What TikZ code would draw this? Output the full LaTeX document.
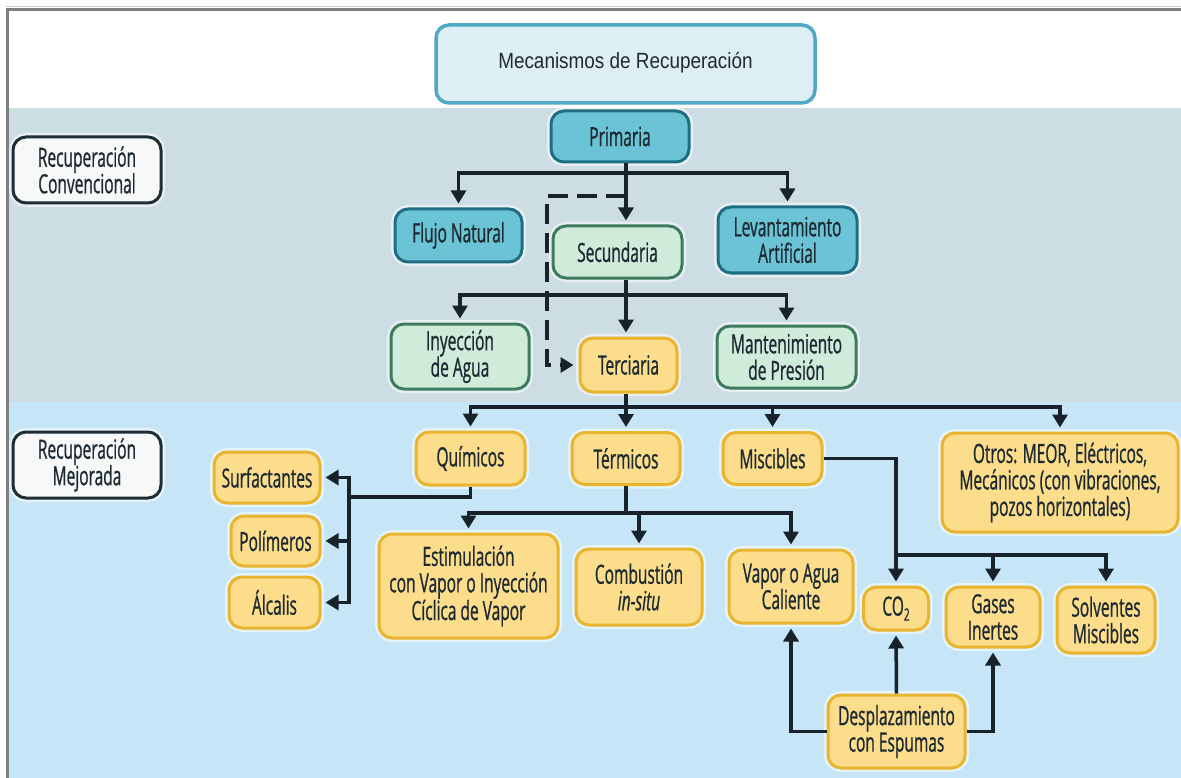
\documentclass[tikz,border=0pt]{standalone}
\usepackage{fontspec}
\setmainfont{Open Sans}[FakeStretch=0.585,FakeBold=0.8]
\newfontfamily\titlefont{Liberation Sans}[FakeStretch=0.86]
\usetikzlibrary{arrows.meta,calc}
\definecolor{bandA}{HTML}{CCDDE4}
\definecolor{bandB}{HTML}{C6E6F7}
\definecolor{tealF}{HTML}{6BC4D6}
\definecolor{tealD}{HTML}{1E6F84}
\definecolor{greenF}{HTML}{CFEBDA}
\definecolor{greenD}{HTML}{3C7B5E}
\definecolor{yelF}{HTML}{FCDD8C}
\definecolor{yelD}{HTML}{E9B52F}
\definecolor{whF}{HTML}{F7F8F8}
\definecolor{whD}{HTML}{1F2D35}
\definecolor{titF}{HTML}{DDEFF5}
\definecolor{titD}{HTML}{4FA9C5}
\definecolor{arrC}{HTML}{17222B}
\definecolor{txtC}{HTML}{1E2A32}
\definecolor{frameC}{HTML}{7F7F7F}
\begin{document}
\begin{tikzpicture}[x=1pt,y=-1pt,
  bx/.style={rounded corners=13pt, line width=3pt, align=center, inner sep=0pt,
    text=txtC, font=\fontsize{26.5}{26.5}\selectfont,
    preaction={draw=white, draw opacity=0.55, line width=8pt}},
  tealbox/.style={bx, fill=tealF, draw=tealD},
  greenbox/.style={bx, fill=greenF, draw=greenD},
  yelbox/.style={bx, fill=yelF, draw=yelD},
  whbox/.style={bx, fill=whF, draw=whD},
  ln/.style={line width=3.5pt, draw=arrC},
  arr/.style={ln, -{Triangle[width=15pt,length=13pt]}, shorten >=4pt},
  dasharr/.style={ln, dash pattern=on 20pt off 9pt, -{Triangle[width=15pt,length=13pt]}, shorten >=5pt},
]
\useasboundingbox (0,0) rectangle (1181,778);
% backgrounds
\fill[white] (0,0) rectangle (1181,778);
\fill[bandA] (9,108) rectangle (1181,402);
\fill[bandB] (9,402) rectangle (1181,778);
\draw[black!20, line width=1pt] (6,6.5) -- (1181,6.5);
\draw[frameC, line width=3.5pt] (7.5,778) -- (7.5,9.5) -- (1181,9.5);

% title
\node[bx, fill=titF, draw=titD, line width=3.5pt, minimum width=379pt, minimum height=78pt,
  font=\titlefont\fontsize{22}{25}\selectfont] (title) at (625.5,64) {\raisebox{7pt}{Mecanismos de Recuperación}};

% side labels
\node[whbox, minimum width=148pt, minimum height=66pt] (rconv) at (87,170) {Recuperación\\Convencional};
\node[whbox, minimum width=148pt, minimum height=66pt] (rmej) at (87,465) {Recuperación\\Mejorada};

% conventional
\node[tealbox, minimum width=138pt, minimum height=51pt] (prim) at (620,136.5) {Primaria};
\node[tealbox, minimum width=127pt, minimum height=53pt] (flujo) at (458.5,235.5) {Flujo Natural};
\node[greenbox, minimum width=129pt, minimum height=52pt] (secu) at (617.5,252) {Secundaria};
\node[tealbox, minimum width=139pt, minimum height=66pt] (levant) at (787.5,240) {Levantamiento\\Artificial};
\node[greenbox, minimum width=138pt, minimum height=65pt] (iny) at (460,356.5) {Inyección\\de Agua};
\node[yelbox, minimum width=97pt, minimum height=54pt] (terc) at (628.5,365) {Terciaria};
\node[greenbox, minimum width=139pt, minimum height=62pt] (mant) at (786.5,357) {Mantenimiento\\de Presión};

% enhanced
\node[yelbox, minimum width=109pt, minimum height=53pt] (quim) at (470.5,458.5) {Químicos};
\node[yelbox, minimum width=108pt, minimum height=52pt] (term) at (626,458.5) {Térmicos};
\node[yelbox, minimum width=99pt, minimum height=52pt] (misc) at (772.5,458.5) {Miscibles};
\node[yelbox, minimum width=236pt, minimum height=99pt] (otros) at (1060,482.5) {Otros: MEOR, Eléctricos,\\Mecánicos (con vibraciones,\\pozos horizontales)};
\node[yelbox, minimum width=106pt, minimum height=51pt] (surf) at (267,477.5) {Surfactantes};
\node[yelbox, minimum width=89pt, minimum height=50pt] (pol) at (275.5,541) {Polímeros};
\node[yelbox, minimum width=91pt, minimum height=51pt] (alc) at (274.5,602.5) {Álcalis};
\node[yelbox, minimum width=179pt, minimum height=104pt] (estim) at (468.5,586) {Estimulación\\con Vapor o Inyección\\Cíclica de Vapor};
\node[yelbox, minimum width=126pt, minimum height=76pt] (comb) at (639,587) {Combustión\\\textit{in-situ}};
\node[yelbox, minimum width=124pt, minimum height=73pt] (vapor) at (791,586.5) {Vapor o Agua\\Caliente};
\node[yelbox, minimum width=65pt, minimum height=43pt] (co2) at (896,608.5) {CO\raisebox{-5pt}{\fontsize{17}{17}\selectfont 2}};
\node[yelbox, minimum width=94pt, minimum height=60pt] (gases) at (993,617) {Gases\\Inertes};
\node[yelbox, minimum width=98pt, minimum height=66pt] (solv) at (1106,620) {Solventes\\Miscibles};
\node[yelbox, minimum width=137pt, minimum height=73pt] (desp) at (896.5,731.5) {Desplazamiento\\con Espumas};

% connectors: primaria
\coordinate (pb) at (626,173);
\draw[ln] (prim.south -| pb) -- (pb);
\draw[arr] (pb) -| (flujo.north);
\draw[arr] (pb) -| (levant.north);
\draw[arr] (pb) -- (pb |- secu.north);
% dashed
\coordinate (dj) at (626,196);
\draw[dasharr] (dj) -- (547,196) -- (547,365) -- (terc.west);
% secundaria
\coordinate (sb) at (626,295);
\draw[ln] (secu.south -| sb) -- (sb);
\draw[arr] (sb) -| (iny.north);
\draw[arr] (sb) -| (mant.north);
\draw[arr] (sb) -- (sb |- terc.north);
% terciaria
\coordinate (tb) at (626,407);
\draw[ln] (terc.south -| tb) -- (tb);
\draw[arr] (tb) -| (quim.north);
\draw[arr] (tb) -| (misc.north);
\draw[arr] (tb) -| (otros.north);
\draw[arr] (tb) -- (tb |- term.north);
% quimicos
\coordinate (qv) at (349,497);
\draw[arr] (quim.south) |- (qv) |- (surf.east);
\draw[arr] (qv) |- (alc.east);
\draw[arr] (qv |- pol.east) -- (pol.east);
% termicos
\coordinate (tmb) at (626,513);
\draw[ln] (term.south -| tmb) -- (tmb);
\draw[arr] (tmb) -| (estim.north);
\draw[arr] (tmb) -| (comb.north);
\draw[arr] (tmb) -| (vapor.north);
% miscibles
\coordinate (mb) at (896,555);
\draw[arr] (misc.east) -| (co2.north);
\draw[arr] (mb) -| (gases.north);
\draw[arr] (mb) -| (solv.north);
% desplazamiento
\draw[arr] (desp.north) -- (co2.south);
\draw[arr] (desp.west) -| (vapor.south);
\draw[arr] (desp.east) -| (gases.south);
\end{tikzpicture}
\end{document}
